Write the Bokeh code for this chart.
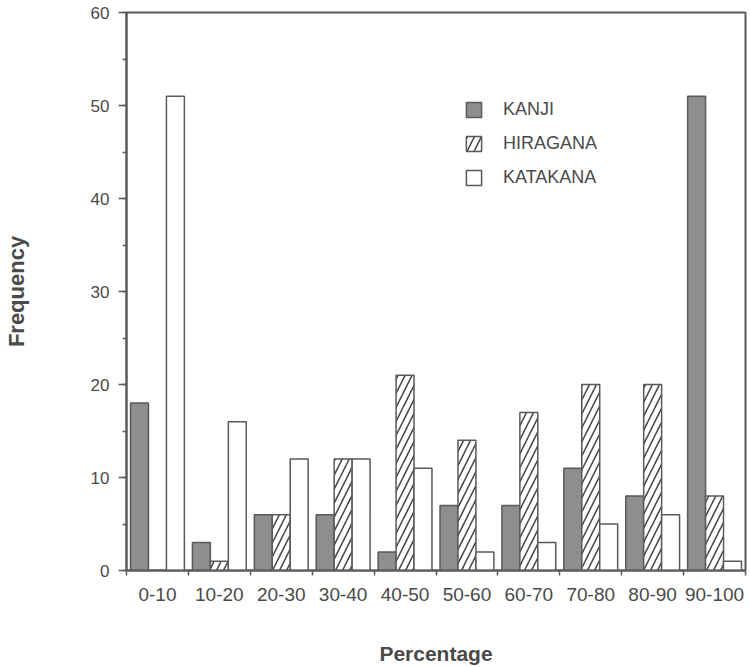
import numpy as np
from bokeh.plotting import figure
from bokeh.models import (ColumnDataSource, FixedTicker, SingleIntervalTicker,
                          Legend, LegendItem, Range1d)
from bokeh.embed import file_html
from bokeh.resources import INLINE

# ---- data ----
categories = ["0-10", "10-20", "20-30", "30-40", "40-50",
              "50-60", "60-70", "70-80", "80-90", "90-100"]
kanji = [18, 3, 6, 6, 2, 7, 7, 11, 8, 51]
hiragana = [0, 1, 6, 12, 21, 14, 17, 20, 20, 8]
katakana = [51, 16, 12, 12, 11, 2, 3, 5, 6, 1]
series_names = ["KANJI", "HIRAGANA", "KATAKANA"]
y_max = 60

FONT = "Liberation Sans"
TXT = "#4a4a4a"
LINE = "#5a5a5a"

n = len(categories)
centers = np.arange(n) + 0.5
bar_w = 0.29

src = ColumnDataSource(dict(
    x_k=centers - bar_w, x_h=centers, x_t=centers + bar_w,
    kanji=kanji, hiragana=hiragana, katakana=katakana,
))

p = figure(width=750, height=667, output_backend="svg", toolbar_location=None,
           x_range=Range1d(0, n), y_range=Range1d(0, y_max),
           min_border_left=125, min_border_right=5, min_border_top=12,
           min_border_bottom=96)
p.background_fill_color = "white"
p.border_fill_color = "white"
p.outline_line_color = LINE
p.outline_line_width = 2
p.xgrid.visible = False
p.ygrid.visible = False

r_k = p.vbar(x="x_k", top="kanji", width=bar_w, bottom=0, source=src,
             fill_color="#8e8e8e", line_color=LINE, line_width=1.5)
r_h = p.vbar(x="x_h", top="hiragana", width=bar_w, bottom=0, source=src,
             fill_color="white", line_color=LINE, line_width=1.5,
             hatch_pattern="/", hatch_color="#444444", hatch_weight=1.5,
             hatch_scale=14)
r_t = p.vbar(x="x_t", top="katakana", width=bar_w, bottom=0, source=src,
             fill_color="white", line_color=LINE, line_width=1.5)

legend = Legend(items=[LegendItem(label=series_names[0], renderers=[r_k]),
                       LegendItem(label=series_names[1], renderers=[r_h]),
                       LegendItem(label=series_names[2], renderers=[r_t])],
                location=(338, 382), padding=0, margin=0,
                border_line_color=None, background_fill_alpha=0,
                glyph_width=19, glyph_height=19, label_height=18,
                label_standoff=20, spacing=13,
                label_text_font=FONT, label_text_font_size="18px",
                label_text_color=TXT)
p.add_layout(legend)

# x axis
xa = p.xaxis[0]
xa.ticker = FixedTicker(ticks=list(centers), minor_ticks=list(np.arange(n + 1)))
xa.major_label_overrides = {float(c): lab for c, lab in zip(centers, categories)}
xa.major_tick_out = 0
xa.major_tick_in = 0
xa.minor_tick_out = 5
xa.minor_tick_in = 0
xa.minor_tick_line_color = LINE
xa.minor_tick_line_width = 1.5
xa.axis_line_color = LINE
xa.axis_line_width = 2
xa.major_label_standoff = 12
xa.major_label_text_font = FONT
xa.major_label_text_font_size = "19px"
xa.major_label_text_color = TXT
xa.axis_label = "Percentage"
xa.axis_label_text_font = FONT
xa.axis_label_text_font_size = "21px"
xa.axis_label_text_font_style = "bold"
xa.axis_label_text_color = TXT
xa.axis_label_standoff = 38

# y axis
ya = p.yaxis[0]
ya.ticker = SingleIntervalTicker(interval=10, num_minor_ticks=2)
ya.major_tick_out = 8
ya.major_tick_in = 0
ya.minor_tick_out = 4
ya.minor_tick_in = 0
ya.major_tick_line_color = LINE
ya.minor_tick_line_color = LINE
ya.major_tick_line_width = 1.5
ya.minor_tick_line_width = 1.5
ya.axis_line_color = LINE
ya.axis_line_width = 2
ya.major_label_standoff = 9
ya.major_label_text_font = FONT
ya.major_label_text_font_size = "17px"
ya.major_label_text_color = TXT
ya.axis_label = "Frequency"
ya.axis_label_text_font = FONT
ya.axis_label_text_font_size = "22px"
ya.axis_label_text_font_style = "bold"
ya.axis_label_text_color = TXT
ya.axis_label_standoff = 59

open("out.html", "w").write(file_html(p, INLINE))
